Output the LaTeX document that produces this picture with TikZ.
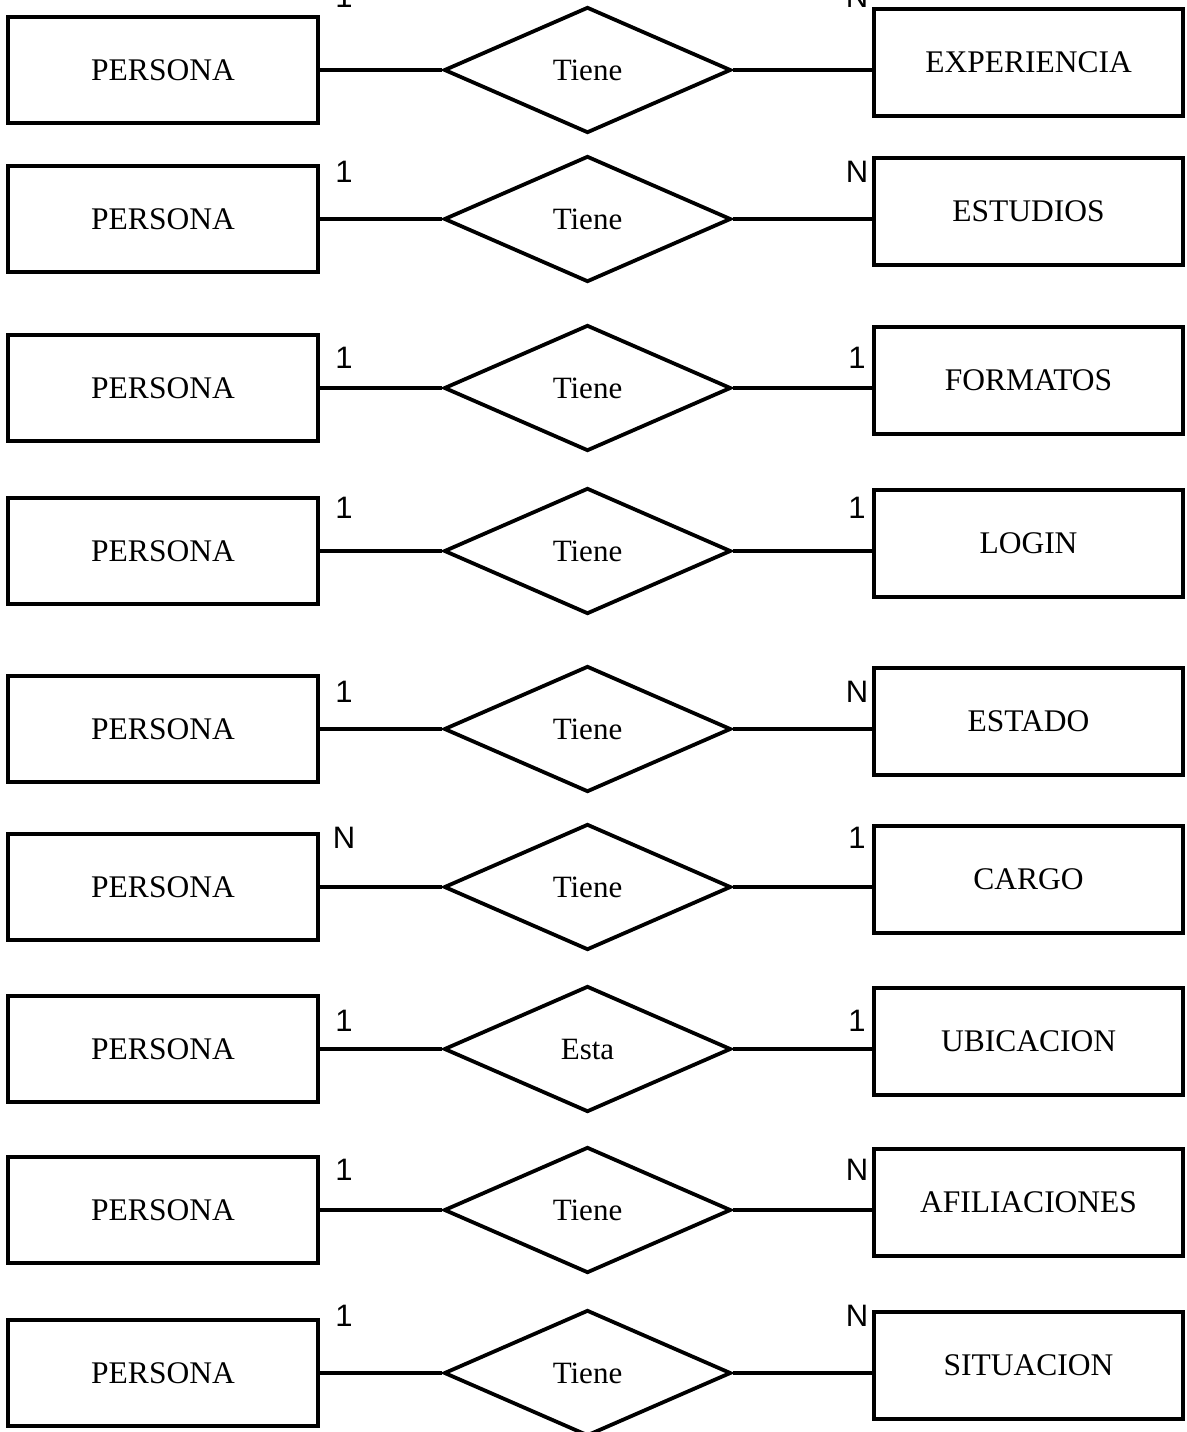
\documentclass[tikz,border=0pt]{standalone}
\usepackage{fontspec}
\setmainfont{Liberation Serif}
\newfontfamily\cardfont{Liberation Sans}
\usetikzlibrary{shapes.geometric}
\begin{document}
\begin{tikzpicture}[x=1pt,y=-1pt,
  lw/.style={line width=3.8pt},
  entity/.style={draw, lw, inner sep=0pt, minimum width=310pt, minimum height=106pt,
     font=\fontsize{31.5}{36}\selectfont},
  rentity/.style={entity, minimum width=309pt, minimum height=107pt},
  rel/.style={draw, lw, diamond, inner sep=0pt, minimum width=287pt, minimum height=126pt,
     font=\fontsize{31}{36}\selectfont},
  card/.style={inner sep=0pt, font=\cardfont\fontsize{31}{35}\selectfont},
  link/.style={lw}]
\useasboundingbox (0,0) rectangle (1186,1432);
\fill[white] (0,0) rectangle (1186,1432);
\clip (0,0) rectangle (1186,1432);
\foreach \i/\c/\ll/\ly/\rl/\ry/\v/\e in {
  1/70/1/-3/N/-3/Tiene/EXPERIENCIA,
  2/219/1/172/N/172/Tiene/ESTUDIOS,
  3/388/1/358/1/358/Tiene/FORMATOS,
  4/551/1/508/1/508/Tiene/LOGIN,
  5/729/1/692/N/692/Tiene/ESTADO,
  6/887/N/838/1/838/Tiene/CARGO,
  7/1049/1/1021/1/1021/Esta/UBICACION,
  8/1210/1/1170/N/1170/Tiene/AFILIACIONES,
  9/1373/1/1316/N/1316/Tiene/SITUACION}{
  \node[entity] (L\i) at (163,\c) {PERSONA};
  \node[rel] (D\i) at (587.5,\c) {\raisebox{-2pt}{\v}};
  \node[rentity] (R\i) at (1028.5,\c-7.5) {\e};
  \node[card] (la\i) at (344,\ly) {\ll};
  \node[card] (ra\i) at (857,\ry) {\rl};
  \draw[link] (L\i.east) -- (D\i.west);
  \draw[link] (D\i.east) -- (D\i.east -| R\i.west);
}
\end{tikzpicture}
\end{document}
